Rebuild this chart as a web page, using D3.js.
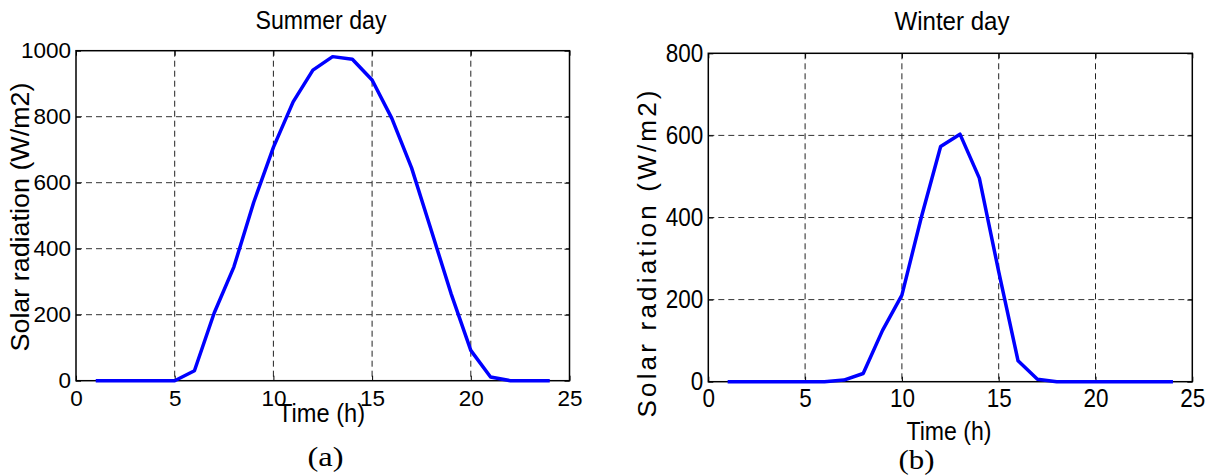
<!DOCTYPE html>
<html><head><meta charset="utf-8">
<script src="https://cdn.jsdelivr.net/npm/d3@7/dist/d3.min.js"></script>
<style>body{margin:0;background:#fff}svg{display:block}</style>
</head><body>
<svg id="chart" width="1216" height="476"></svg>
<script>
// ---- data ----
const hours = [1,2,3,4,5,6,7,8,9,10,11,12,13,14,15,16,17,18,19,20,21,22,23,24];
const summerRadiation = [0,0,0,0,0,30,205,345,540,707,845,941,982,974,911,795,645,455,264,92,11,0,0,0];
const winterRadiation = [0,0,0,0,0,0,4,20,125,211,400,573,603,496,268,51,6,0,0,0,0,0,0,0];
const xTickValues = [0,5,10,15,20,25];
const summerYTicks = [0,200,400,600,800,1000];
const winterYTicks = [0,200,400,600,800];
const titles = ["Summer day","Winter day"];
const xLabel = "Time (h)";
const yLabel = "Solar radiation (W/m2)";
const captions = ["(a)","(b)"];

const svg = d3.select("#chart");
const FONT = "'Liberation Sans', Arial, Helvetica, sans-serif";

const panels = [
  {x0:76, x1:569.5, y0:50.7, y1:380.7, yMax:1000, yTicks:summerYTicks, values:summerRadiation,
   title:titles[0], titleX:321, titleY:28.5, titleLen:131,
   xlabX:321.5, xlabY:421.5, xlabLen:87,
   ylabX:29, ylabY:217, ylabLen:269, ylabAdjust:"spacingAndGlyphs",
   capX:325.5, capY:466, capText:captions[0], xPad:9, tickScale:1.0},
  {x0:708.3, x1:1192.3, y0:53.3, y1:381.7, yMax:800, yTicks:winterYTicks, values:winterRadiation,
   title:titles[1], titleX:952, titleY:30, titleLen:115,
   xlabX:949, xlabY:440, xlabLen:85,
   ylabX:656, ylabY:254, ylabLen:327, ylabAdjust:"spacing",
   capX:916.5, capY:469, capText:captions[1], xPad:6, tickScale:1.15}
];

panels.forEach(p => {
  const x = d3.scaleLinear().domain([0,25]).range([p.x0, p.x1]);
  const y = d3.scaleLinear().domain([0,p.yMax]).range([p.y1, p.y0]);
  const g = svg.append("g");

  // grid
  g.append("g").selectAll("line").data(xTickValues.slice(1,-1)).join("line")
    .attr("x1", d=>x(d)).attr("x2", d=>x(d)).attr("y1", p.y0).attr("y2", p.y1)
    .attr("stroke","#222").attr("stroke-width",1).attr("stroke-dasharray","6,4");
  g.append("g").selectAll("line").data(p.yTicks.slice(1,-1)).join("line")
    .attr("y1", d=>y(d)).attr("y2", d=>y(d)).attr("x1", p.x0).attr("x2", p.x1)
    .attr("stroke","#333").attr("stroke-width",1).attr("stroke-dasharray","6,4");

  // axes
  const ax = (gen, tx, ty) => {
    const a = g.append("g").attr("transform",`translate(${tx},${ty})`).call(gen);
    a.select(".domain").remove();
    a.selectAll("line").attr("stroke","#000");
    a.selectAll("text").attr("font-family",FONT).attr("font-size",22.5).attr("fill","#000")
      .attr("transform",`scale(1,${p.tickScale})`);
    return a;
  };
  const fmt = d3.format("d");
  ax(d3.axisBottom(x).tickValues(xTickValues).tickFormat(fmt).tickSizeInner(-5).tickSizeOuter(0).tickPadding(p.xPad), 0, p.y1);
  ax(d3.axisLeft(y).tickValues(p.yTicks).tickFormat(fmt).tickSizeInner(-5).tickSizeOuter(0).tickPadding(5), p.x0, 0);
  ax(d3.axisTop(x).tickValues(xTickValues).tickSizeInner(-5).tickSizeOuter(0).tickFormat(""), 0, p.y0);
  ax(d3.axisRight(y).tickValues(p.yTicks).tickSizeInner(-5).tickSizeOuter(0).tickFormat(""), p.x1, 0);

  // box
  g.append("rect").attr("x",p.x0).attr("y",p.y0).attr("width",p.x1-p.x0).attr("height",p.y1-p.y0)
    .attr("fill","none").attr("stroke","#000").attr("stroke-width",1.5);

  // line
  const line = d3.line().x((d,i)=>x(hours[i])).y(d=>y(d));
  g.append("path").datum(p.values).attr("d",line)
    .attr("fill","none").attr("stroke","#0000ff").attr("stroke-width",3.5).attr("stroke-linejoin","round");

  // texts
  g.append("text").attr("x",p.titleX).attr("y",p.titleY).attr("text-anchor","middle")
    .attr("font-family",FONT).attr("font-size",25).attr("textLength",p.titleLen).attr("lengthAdjust","spacingAndGlyphs")
    .text(p.title);
  g.append("text").attr("x",p.xlabX).attr("y",p.xlabY).attr("text-anchor","middle")
    .attr("font-family",FONT).attr("font-size",25).attr("textLength",p.xlabLen).attr("lengthAdjust","spacingAndGlyphs")
    .text(xLabel);
  g.append("text").attr("transform",`translate(${p.ylabX},${p.ylabY}) rotate(-90)`).attr("text-anchor","middle")
    .attr("font-family",FONT).attr("font-size",26).attr("textLength",p.ylabLen).attr("lengthAdjust",p.ylabAdjust)
    .text(yLabel);
  g.append("text").attr("x",p.capX).attr("y",p.capY).attr("text-anchor","middle")
    .attr("font-family","'Liberation Serif', 'Times New Roman', serif").attr("font-size",27)
    .attr("textLength",36).attr("lengthAdjust","spacingAndGlyphs")
    .text(p.capText);
});
</script>
</body></html>
